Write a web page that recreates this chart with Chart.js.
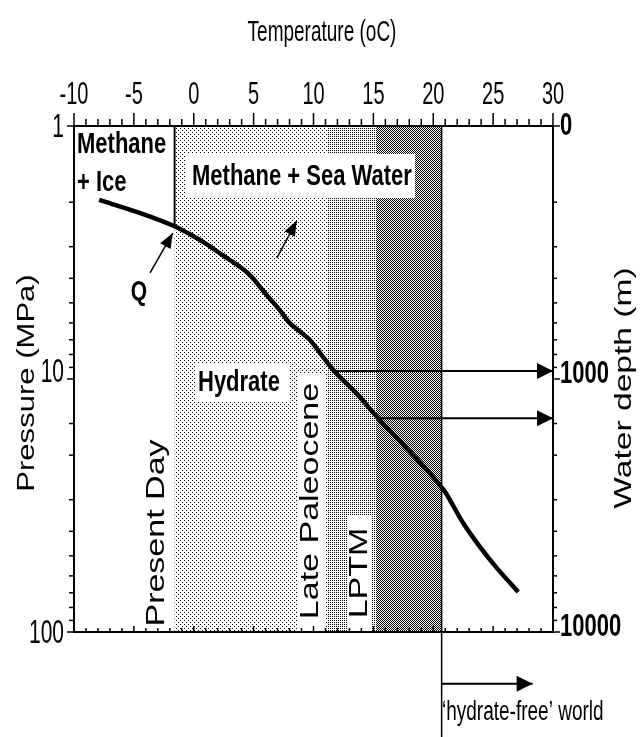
<!DOCTYPE html>
<html>
<head>
<meta charset="utf-8">
<script src="https://cdn.jsdelivr.net/npm/chart.js@4.4.1/dist/chart.umd.min.js"></script>
<style>
html, body { margin: 0; padding: 0; background: #fff; }
canvas { display: block; }
</style>
</head>
<body>
<canvas id="chart" width="643" height="737"></canvas>
<script>
// Methane hydrate stability curve: temperature (oC) vs pressure (MPa)
var curveT = [-7.9, -4.7, -1.7, 0.5, 2.4, 4.5, 6.1, 7.2, 8.0, 9.7, 10.8, 11.8, 13.6, 15.4, 17.5, 19.7, 21.0, 21.4, 22.5, 23.9, 25.3, 27.1];
var curveP = [1.96, 2.19, 2.48, 2.82, 3.24, 3.81, 4.66, 5.35, 6.0, 7.01, 8.19, 9.38, 11.4, 14.3, 18.2, 23.5, 28.0, 30.1, 37.1, 46.1, 55.8, 69.5];

// bottom water temperature bands: present day, late paleocene, LPTM (ends at hydrate-free limit)
var bandNames = ["Present Day", "Late Paleocene", "LPTM"];
var bandFrom = [-1.6, 11.2, 15.3];
var bandTo = [11.2, 15.3, 20.7];
var hydrateFreeT = 20.7;

// arrows from the curve to the water depth axis
var depthArrowT = [11.8, 15.4];
var depthArrowP = [9.3, 14.3];

// pressure ticks and their water depth equivalents
var pressureLabels = { 1: "1", 10: "10", 100: "100" };
var depthLabels = { 1: "0", 10: "1000", 100: "10000" };

// pointer arrows (tail, tip) in T / P
var qArrow = [[-3.65, 3.81], [-1.75, 2.65]];
var seaArrow = [[6.95, 3.32], [8.6, 2.37]];
var freeArrowP = 160;
var freeArrowT = 28.3;

var FONT = "'Liberation Sans', Arial, sans-serif";

function makePattern(ctx, w, h, dots, bg, fg) {
    var c = document.createElement("canvas");
    c.width = w;
    c.height = h;
    var g = c.getContext("2d");
    g.fillStyle = bg;
    g.fillRect(0, 0, w, h);
    g.fillStyle = fg;
    dots.forEach(function(d) { g.fillRect(d[0], d[1], 1, 1); });
    return ctx.createPattern(c, "repeat");
}

function drawText(ctx, s, x, y, o) {
    ctx.save();
    ctx.translate(x, y);
    ctx.scale(o.sx || 1, o.sy || 1.3);
    if (o.rot) ctx.rotate(-Math.PI / 2);
    ctx.font = o.font;
    ctx.textAlign = o.align || "center";
    ctx.textBaseline = "middle";
    ctx.fillStyle = "#000";
    ctx.fillText(s, 0, 0);
    ctx.restore();
}

function line(ctx, x1, y1, x2, y2) {
    ctx.beginPath();
    ctx.moveTo(x1, y1);
    ctx.lineTo(x2, y2);
    ctx.stroke();
}

function arrowHead(ctx, from, to, len, half) {
    var ang = Math.atan2(to.y - from.y, to.x - from.x);
    ctx.save();
    ctx.translate(to.x, to.y);
    ctx.rotate(ang);
    ctx.fillStyle = "#000";
    ctx.beginPath();
    ctx.moveTo(0, 0);
    ctx.lineTo(-len, -half);
    ctx.lineTo(-len, half);
    ctx.closePath();
    ctx.fill();
    ctx.restore();
}

// where the curve crosses a temperature (log-linear between points)
function curvePAt(t) {
    for (var i = 1; i < curveT.length; i++) {
        if (t <= curveT[i]) {
            var f = (t - curveT[i-1]) / (curveT[i] - curveT[i-1]);
            return Math.pow(10, Math.log10(curveP[i-1]) + f * (Math.log10(curveP[i]) - Math.log10(curveP[i-1])));
        }
    }
    return curveP[curveP.length-1];
}

var sketch = {
    id: "sketch",
    beforeDatasetsDraw: function(chart) {
        var ctx = chart.ctx;
        var a = chart.chartArea;
        var xs = chart.scales.x;
        var fills = [
            makePattern(ctx, 4, 4, [[0, 0], [2, 2]], "#fff", "#000"),
            makePattern(ctx, 2, 2, [[0, 0]], "#fff", "#000"),
            makePattern(ctx, 2, 2, [[0, 0], [1, 1]], "#fff", "#000")
        ];
        ctx.save();
        // bands
        for (var i = 0; i < bandFrom.length; i++) {
            var x1 = xs.getPixelForValue(bandFrom[i]);
            var x2 = xs.getPixelForValue(bandTo[i]);
            ctx.fillStyle = fills[i];
            ctx.fillRect(x1, a.top, x2 - x1, a.bottom - a.top);
        }
        // white label boxes
        ctx.fillStyle = "#fff";
        ctx.fillRect(185, 154, 230, 44);
        ctx.fillRect(195, 364, 95, 38);
        ctx.fillRect(297, 374, 29, a.bottom - 374);
        ctx.fillRect(348, 516, 23, a.bottom - 516);
        // ice / sea water boundary above the curve
        ctx.strokeStyle = "#000";
        ctx.lineWidth = 2;
        var xi = xs.getPixelForValue(bandFrom[0]);
        line(ctx, xi, a.top, xi, chart.scales.y.getPixelForValue(curvePAt(bandFrom[0])));
        ctx.restore();
    },
    afterDatasetsDraw: function(chart) {
        var ctx = chart.ctx;
        var a = chart.chartArea;
        var xs = chart.scales.x;
        var ys = chart.scales.y;
        ctx.save();
        // arrow heads at the end of each arrow dataset
        chart.data.datasets.forEach(function(ds, i) {
            if (!ds.head) return;
            var pts = chart.getDatasetMeta(i).data;
            arrowHead(ctx, pts[pts.length-2], pts[pts.length-1], ds.head[0], ds.head[1]);
        });
        // axes frame
        ctx.strokeStyle = "#000";
        ctx.lineWidth = 2;
        ctx.strokeRect(a.left, a.top, a.right - a.left, a.bottom - a.top);
        ctx.lineWidth = 1.5;
        xs.ticks.forEach(function(t) {
            var x = xs.getPixelForValue(t.value);
            var major = Math.round(t.value) % 5 === 0;
            line(ctx, x, a.top, x, a.top - (major ? 13 : 7));
            line(ctx, x, a.bottom, x, a.bottom - (major ? 6 : 4));
            if (major) {
                drawText(ctx, String(t.value), x, 95, { font: "20px " + FONT, sy: 1.55 });
            }
        });
        ys.ticks.forEach(function(t) {
            var y = ys.getPixelForValue(t.value);
            var major = pressureLabels[t.value] !== undefined;
            line(ctx, a.left, y, a.left - (major ? 7 : 5), y);
            line(ctx, a.right, y, a.right + (major ? 7 : 4), y);
            if (major) {
                drawText(ctx, pressureLabels[t.value], 64, t.value === 10 ? y - 6 : y + 2, { font: "21px " + FONT, sy: 1.55, align: "right" });
                drawText(ctx, depthLabels[t.value], 560, t.value === 1 ? y : y - 5, { font: "bold 22px " + FONT, sy: 1.45, align: "left" });
            }
        });
        // axis titles
        drawText(ctx, "Temperature (oC)", 322, 33, { font: "19px " + FONT, sy: 1.55 });
        drawText(ctx, "Pressure (MPa)", 28, 383, { font: "23px " + FONT, sy: 1.35, rot: true });
        drawText(ctx, "Water depth (m)", 624, 388, { font: "24px " + FONT, sy: 1.4, rot: true });
        // region labels
        drawText(ctx, "Methane", 77, 145, { font: "bold 22px " + FONT, sy: 1.3, align: "left" });
        drawText(ctx, "+ Ice", 77, 183, { font: "bold 22px " + FONT, sy: 1.3, align: "left" });
        drawText(ctx, "Methane + Sea Water", 192, 177, { font: "bold 22px " + FONT, sy: 1.3, align: "left" });
        drawText(ctx, "Hydrate", 198, 383, { font: "bold 22px " + FONT, sy: 1.3, align: "left" });
        drawText(ctx, "Q", 139, 292, { font: "bold 21px " + FONT, sy: 1.3 });
        drawText(ctx, bandNames[0], 157, 533, { font: "25px " + FONT, sy: 1.36, rot: true });
        drawText(ctx, bandNames[1], 311, 501, { font: "25px " + FONT, sy: 1.36, rot: true });
        drawText(ctx, bandNames[2], 360, 573, { font: "25px " + FONT, sy: 1.36, rot: true });
        drawText(ctx, "\u2018hydrate-free\u2019 world", 442, 712, { font: "19px " + FONT, sy: 1.45, align: "left" });
        ctx.restore();
    }
};

function pts(ts, ps) {
    return ts.map(function(t, i) { return { x: t, y: ps[i] }; });
}

var datasets = [{
    data: pts(curveT, curveP),
    borderColor: "#000",
    borderWidth: 4.5,
    pointRadius: 0,
    tension: 0.35
}];
depthArrowT.forEach(function(t, i) {
    datasets.push({
        data: pts([t, 30], [depthArrowP[i], depthArrowP[i]]),
        borderColor: "#000", borderWidth: 2, pointRadius: 0, head: [16, 8]
    });
});
[qArrow, seaArrow].forEach(function(ar) {
    datasets.push({
        data: pts([ar[0][0], ar[1][0]], [ar[0][1], ar[1][1]]),
        borderColor: "#000", borderWidth: 1.5, pointRadius: 0, head: [15, 6]
    });
});
datasets.push({
    data: pts([hydrateFreeT, hydrateFreeT], [1, 260]),
    borderColor: "#000", borderWidth: 1.5, pointRadius: 0, clip: false
});
datasets.push({
    data: pts([hydrateFreeT, freeArrowT], [freeArrowP, freeArrowP]),
    borderColor: "#000", borderWidth: 2, pointRadius: 0, clip: false, head: [16, 8]
});

var chart = new Chart(document.getElementById("chart"), {
    type: "line",
    data: { datasets: datasets },
    options: {
        responsive: false,
        animation: false,
        devicePixelRatio: 1,
        layout: { padding: { left: 0, right: 0, top: 0, bottom: 105 } },
        plugins: { legend: { display: false }, tooltip: { enabled: false } },
        scales: {
            x: {
                type: "linear", position: "top", min: -10, max: 30,
                ticks: { display: false, stepSize: 1 },
                grid: { display: false }, border: { display: false },
                afterFit: function(s) { s.height = 126; }
            },
            y: {
                type: "logarithmic", position: "left", min: 1, max: 100, reverse: true,
                ticks: { display: false }, grid: { display: false }, border: { display: false },
                afterFit: function(s) { s.width = 74; }
            },
            y2: {
                type: "logarithmic", position: "right", min: 1, max: 100, reverse: true,
                ticks: { display: false }, grid: { display: false }, border: { display: false },
                afterFit: function(s) { s.width = 90; }
            }
        }
    },
    plugins: [sketch]
});
</script>
</body>
</html>
